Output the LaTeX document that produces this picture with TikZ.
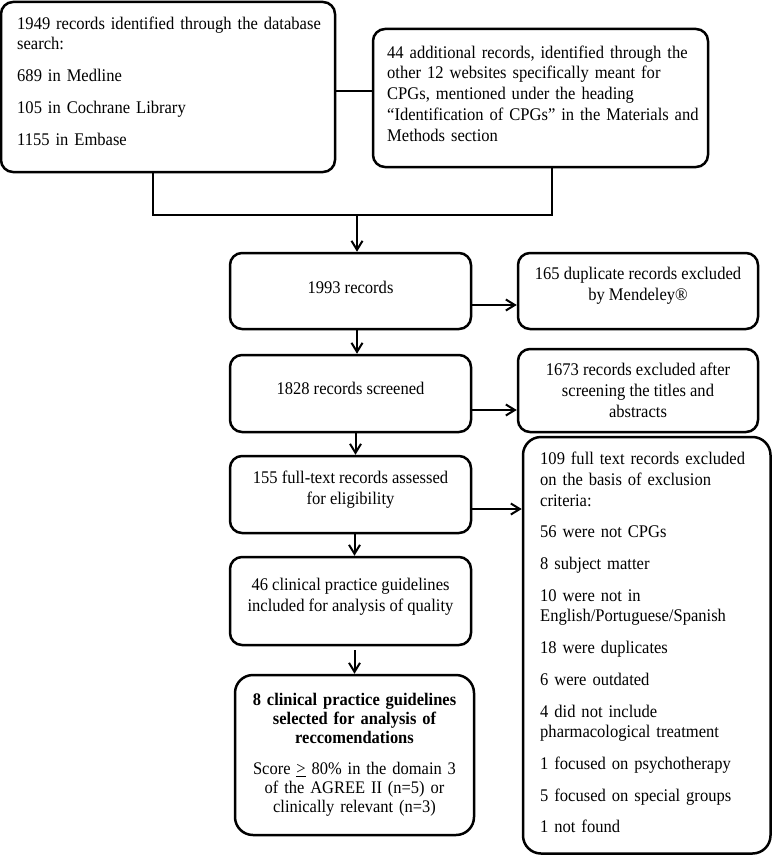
\documentclass[tikz,border=0pt]{standalone}
\usepackage{fontspec}
\setmainfont{Liberation Serif}[FakeStretch=0.93]
\usetikzlibrary{arrows.meta}
\newcommand\fs{\fontsize{17.8}{20.7}\selectfont\spaceskip=4.1pt\relax}
\newcommand\fsj{\fontsize{17.7}{19}\selectfont\spaceskip=4.1pt\relax}
\newcommand\dpt[1]{\rule[-#1]{0pt}{#1}}
\begin{document}
\begin{tikzpicture}[x=1pt,y=-1pt,
  box/.style={draw, line width=2.5pt, rounded corners=12pt, inner sep=0pt},
  ctxt/.style={align=center, font=\fs},
  ltxt/.style={inner sep=0pt, text width=#1, font=\fs, anchor=north west,
    execute at begin node={\raggedright\parindent=0pt\parskip=11pt}},
  conn/.style={line width=2pt},
  arr/.style={conn, -{Straight Barb[length=9pt,width=11pt]}}]
\useasboundingbox (0,0) rectangle (773,856);

% top boxes
\node[box, minimum width=334pt, minimum height=170pt] (a) at (168,87) {};
\node[ltxt=315pt] (at) at (17,16.5) {1949 records identified through the database\\
search:\par
689 in Medline\par
105 in Cochrane Library\par
1155 in Embase};

\node[box, minimum width=335pt, minimum height=138pt] (b) at (540.5,98) {};
\node[ltxt=320pt] (bt) at (387,45.5) {44 additional records, identified through the\\
other 12 websites specifically meant for\\
CPGs, mentioned under the heading\\
“Identification of CPGs” in the Materials and\\
Methods section};

% main column
\node[box, ctxt, minimum width=241pt, minimum height=76pt] (c) at (350.5,291) {1993 records\dpt{8pt}};
\node[box, ctxt, minimum width=241pt, minimum height=77pt] (e) at (350.5,393.5) {1828 records screened\dpt{11pt}};
\node[box, ctxt, minimum width=241pt, minimum height=77pt] (g) at (350.5,494.5) {155 full-text records assessed\\ for eligibility\dpt{13pt}};
\node[box, ctxt, minimum width=241pt, minimum height=88pt] (i) at (350.5,601) {46 clinical practice guidelines\\ included for analysis of quality\dpt{12pt}};
\node[box, rounded corners=18pt, minimum width=239pt, minimum height=160pt] (j) at (354.5,755) {};
\node[inner sep=0pt, text width=232pt, anchor=north, font=\fsj,
  execute at begin node={\centering\parindent=0pt\parskip=12pt}] (jt) at (354.5,693)
  {{\bfseries 8 clinical practice guidelines\\ selected for analysis of\\ reccomendations\par}
  Score \underline{>} 80\% in the domain 3\\ of the AGREE II (n=5) or\\ clinically relevant (n=3)};

% right column
\node[box, ctxt, minimum width=240pt, minimum height=76pt] (d) at (638,291) {165 duplicate records excluded\\ by Mendeley®\dpt{14pt}};
\node[box, ctxt, minimum width=240pt, minimum height=83pt] (f) at (638,390.5) {1673 records excluded after\\ screening the titles and\\ abstracts};
\node[box, rounded corners=18pt, minimum width=247.5pt, minimum height=416.5pt] (h) at (646.75,645.25) {};
\node[ltxt=228pt] (ht) at (540,452) {109 full text records excluded\\
on the basis of exclusion\\
criteria:\par
56 were not CPGs\par
8 subject matter\par
10 were not in\\
English/Portuguese/Spanish\par
18 were duplicates\par
6 were outdated\par
4 did not include\\
pharmacological treatment\par
1 focused on psychotherapy\par
5 focused on special groups\par
1 not found};

% connectors
\coordinate (ja) at (153,215);
\coordinate (jb) at (552,215);
\coordinate (jm) at (357,215);
\draw[conn] ([yshift=-4pt]a.east) -- ([yshift=-4pt]a.east -| b.west);
\draw[conn] (a.south -| ja) -- (ja) -- (jb) -- (b.south -| jb);
\draw[arr] (jm) -- (c.north -| jm);
\draw[arr] ([yshift=-14pt]c.east) -- ([yshift=-14pt]c.east -| d.west);
\draw[arr] ([xshift=6.5pt]c.south) -- ([xshift=6.5pt]c.south |- e.north);
\draw[arr] ([yshift=-16.5pt]e.east) -- ([yshift=-16.5pt]e.east -| f.west);
\draw[arr] ([xshift=5pt]e.south) -- ([xshift=5pt]e.south |- g.north);
\draw[arr] ([yshift=-14.5pt]g.east) -- ([yshift=-14.5pt]g.east -| h.west);
\draw[arr] ([xshift=4pt]g.south) -- ([xshift=4pt]g.south |- i.north);
\draw[arr, shorten <=4pt] (i.south -| j.north) -- (j.north);
\end{tikzpicture}
\end{document}
